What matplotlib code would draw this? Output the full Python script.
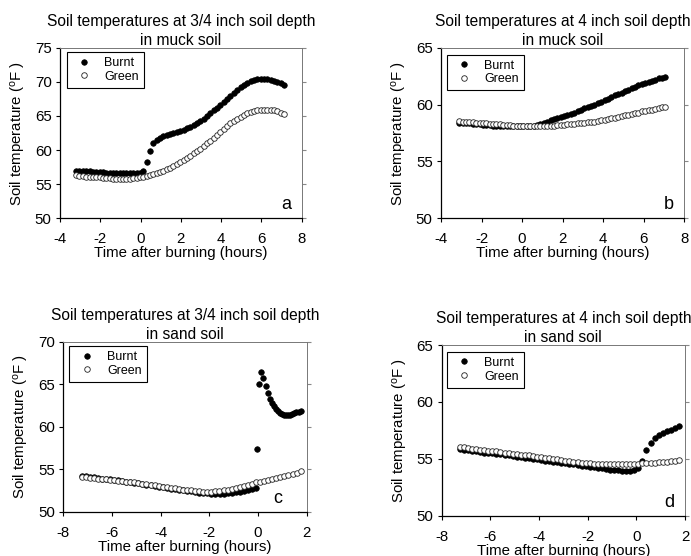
"""Soil temperature after burning: muck vs sand soil, 3/4 inch and 4 inch depth.

Four scatter panels (a-d), burnt plots as filled dots, green plots as open dots.
"""

import matplotlib
matplotlib.use("Agg")
import matplotlib.pyplot as plt
import numpy as np

plt.rcParams["font.family"] = ["Liberation Sans", "DejaVu Sans"]
plt.rcParams["mathtext.fontset"] = "custom"
plt.rcParams["mathtext.rm"] = "Liberation Sans"
plt.rcParams["mathtext.it"] = "Liberation Sans"
plt.rcParams["axes.unicode_minus"] = False

# ── readings (°F), 10-minute logger steps unless noted ───────────────────────
# a: 3/4 inch, muck soil, -3.2 h .. 7.13 h
a_burnt = [57.0, 57.0, 56.9, 56.9, 56.9, 56.8, 56.8, 56.8, 56.8, 56.7,
           56.7, 56.7, 56.7, 56.7, 56.6, 56.6, 56.6, 56.6, 56.6, 56.6,
           57.0, 58.2, 59.8, 61.0, 61.5, 61.8, 62.0, 62.2, 62.3, 62.5,
           62.6, 62.8, 63.0, 63.2, 63.4, 63.7, 64.0, 64.3, 64.6, 65.0,
           65.4, 65.8, 66.2, 66.6, 67.0, 67.5, 67.9, 68.3, 68.8, 69.2,
           69.5, 69.8, 70.1, 70.3, 70.4, 70.4, 70.4, 70.4, 70.3, 70.1,
           70.0, 69.8, 69.6]
a_green = [56.3, 56.2, 56.2, 56.1, 56.1, 56.0, 56.0, 56.0, 55.9, 55.9,
           55.9, 55.8, 55.8, 55.8, 55.8, 55.8, 55.8, 55.9, 55.9, 56.0,
           56.1, 56.2, 56.3, 56.5, 56.6, 56.8, 57.0, 57.2, 57.4, 57.6,
           57.9, 58.2, 58.5, 58.8, 59.1, 59.5, 59.8, 60.2, 60.6, 61.0,
           61.4, 61.8, 62.2, 62.7, 63.1, 63.5, 63.9, 64.3, 64.6, 64.9,
           65.2, 65.4, 65.6, 65.7, 65.8, 65.9, 65.9, 65.9, 65.9, 65.8,
           65.7, 65.5, 65.3]
a_time = (-3.2, 7.13)

# b: 4 inch, muck soil, -3.1 h .. 7.07 h
b_burnt = [58.4, 58.4, 58.4, 58.35, 58.3, 58.3, 58.25, 58.2, 58.2, 58.2,
           58.15, 58.15, 58.1, 58.1, 58.1, 58.1, 58.1, 58.1, 58.1, 58.1,
           58.1, 58.1, 58.15, 58.2, 58.3, 58.4, 58.5, 58.6, 58.7, 58.8,
           58.9, 59.0, 59.1, 59.2, 59.3, 59.4, 59.55, 59.7, 59.8, 59.9,
           60.0, 60.1, 60.25, 60.4, 60.5, 60.65, 60.8, 60.9, 61.05, 61.2,
           61.3, 61.45, 61.55, 61.7, 61.8, 61.9, 62.0, 62.1, 62.2, 62.3,
           62.35, 62.4]
b_green = [58.55, 58.5, 58.5, 58.45, 58.45, 58.4, 58.4, 58.35, 58.35, 58.3,
           58.3, 58.25, 58.25, 58.2, 58.2, 58.2, 58.15, 58.15, 58.1, 58.1,
           58.1, 58.1, 58.1, 58.1, 58.1, 58.1, 58.15, 58.15, 58.15, 58.2,
           58.2, 58.2, 58.25, 58.3, 58.3, 58.35, 58.4, 58.4, 58.45, 58.5,
           58.5, 58.55, 58.6, 58.65, 58.7, 58.8, 58.85, 58.9, 59.0, 59.05,
           59.1, 59.2, 59.25, 59.3, 59.4, 59.45, 59.5, 59.55, 59.6, 59.7,
           59.75, 59.8]
b_time = (-3.1, 7.07)

# c: 3/4 inch, sand soil; burnt before burning -7.25 .. -0.08 h,
#    burnt after burning 0 .. 1.75 h in 5-minute steps, green -7.25 .. 1.75 h
c_burnt_pre = [54.25, 54.2, 54.1, 54.05, 54.0, 53.9, 53.85, 53.8, 53.75, 53.7,
               53.6, 53.55, 53.5, 53.4, 53.35, 53.25, 53.2, 53.1, 53.0, 52.95,
               52.9, 52.8, 52.7, 52.65, 52.6, 52.5, 52.45, 52.4, 52.3, 52.25,
               52.2, 52.15, 52.1, 52.1, 52.1, 52.1, 52.15, 52.2, 52.3, 52.35,
               52.45, 52.55, 52.65, 52.75]
c_burnt_post = [57.4, 65.0, 66.4, 65.7, 64.8, 64.0, 63.3, 62.8, 62.4, 62.1,
                61.85, 61.65, 61.5, 61.4, 61.35, 61.35, 61.4, 61.5, 61.6, 61.7,
                61.75, 61.85]
c_green = [54.1, 54.05, 54.0, 53.95, 53.9, 53.85, 53.8, 53.75, 53.7, 53.65,
           53.6, 53.55, 53.5, 53.45, 53.4, 53.3, 53.25, 53.2, 53.1, 53.0,
           52.95, 52.9, 52.8, 52.75, 52.7, 52.6, 52.55, 52.5, 52.45, 52.4,
           52.35, 52.35, 52.35, 52.4, 52.45, 52.5, 52.6, 52.7, 52.8, 52.9,
           53.0, 53.15, 53.3, 53.45, 53.55, 53.65, 53.75, 53.85, 53.95, 54.05,
           54.2, 54.3, 54.45, 54.6, 54.8]
c_time_pre = (-7.25, -0.08)
c_time_post = (-0.03, 1.75)
c_time = (-7.25, 1.75)

# d: 4 inch, sand soil, -7.25 h .. 1.75 h
d_burnt = [55.85, 55.8, 55.75, 55.7, 55.65, 55.6, 55.55, 55.5, 55.5, 55.45,
           55.4, 55.35, 55.3, 55.25, 55.2, 55.15, 55.1, 55.05, 55.0, 54.95,
           54.9, 54.85, 54.8, 54.75, 54.7, 54.65, 54.6, 54.55, 54.5, 54.45,
           54.4, 54.35, 54.3, 54.25, 54.2, 54.15, 54.1, 54.05, 54.0, 54.0,
           53.95, 53.95, 53.95, 54.05, 54.2, 54.85, 55.8, 56.4, 56.8, 57.05,
           57.25, 57.4, 57.55, 57.7, 57.9]
d_green = [56.05, 56.0, 55.95, 55.9, 55.85, 55.8, 55.75, 55.7, 55.7, 55.65,
           55.6, 55.55, 55.5, 55.45, 55.4, 55.35, 55.3, 55.3, 55.25, 55.2,
           55.15, 55.1, 55.05, 55.0, 54.95, 54.9, 54.85, 54.8, 54.75, 54.7,
           54.65, 54.6, 54.6, 54.55, 54.55, 54.5, 54.5, 54.5, 54.5, 54.5,
           54.5, 54.5, 54.5, 54.55, 54.55, 54.6, 54.6, 54.65, 54.65, 54.7,
           54.75, 54.75, 54.8, 54.85, 54.9]
d_time = (-7.25, 1.75)

TITLES = [
    "Soil temperatures at 3/4 inch soil depth\nin muck soil",
    "Soil temperatures at 4 inch soil depth\nin muck soil",
    "Soil temperatures at 3/4 inch soil depth\nin sand soil",
    "Soil temperatures at 4 inch soil depth\nin sand soil",
]
LETTERS = ["a", "b", "c", "d"]
XLIMS = [(-4, 8), (-4, 8), (-8, 2), (-8, 2)]
YLIMS = [(50, 75), (50, 65), (50, 70), (50, 65)]

# axes rectangles in figure pixels: left, top, right, bottom
W, H = 691, 556
BOXES = [(60, 47.7, 301.7, 218.3),
         (441, 47.7, 684.3, 218.3),
         (63.3, 341.7, 306.7, 511.7),
         (441.7, 345, 685, 515.7)]
LETTER_X = [0.955, 0.955, 0.9, 0.955]
LEGEND_ANCHOR = [(0.028, 0.975), (0.023, 0.96), (0.025, 0.975), (0.02, 0.96)]


def times(span, values):
    return np.linspace(span[0], span[1], len(values))


def main() -> None:
    fig = plt.figure(figsize=(W / 100, H / 100), dpi=100)

    burnt_kw = dict(ls="none", marker="o", ms=4.0, mfc="black", mec="black",
                    mew=0.5, label="Burnt")
    green_kw = dict(ls="none", marker="o", ms=4.0, mfc="white", mec="#222222",
                    mew=0.6, label="Green")

    series = [
        [(times(a_time, a_burnt), a_burnt)],
        [(times(b_time, b_burnt), b_burnt)],
        [(times(c_time_pre, c_burnt_pre), c_burnt_pre),
         (times(c_time_post, c_burnt_post), c_burnt_post)],
        [(times(d_time, d_burnt), d_burnt)],
    ]
    greens = [(times(a_time, a_green), a_green),
              (times(b_time, b_green), b_green),
              (times(c_time, c_green), c_green),
              (times(d_time, d_green), d_green)]

    for i, (l, t, r, b) in enumerate(BOXES):
        ax = fig.add_axes([l / W, 1 - b / H, (r - l) / W, (b - t) / H])
        for j, (x, y) in enumerate(series[i]):
            kw = dict(burnt_kw)
            if j > 0:
                kw.pop("label")
            ax.plot(x, y, **kw)
        gx, gy = greens[i]
        ax.plot(gx, gy, **green_kw)

        ax.set_xlim(*XLIMS[i])
        ax.set_ylim(*YLIMS[i])
        ax.set_xticks(np.arange(XLIMS[i][0], XLIMS[i][1] + 1, 2))
        ax.set_yticks(np.arange(YLIMS[i][0], YLIMS[i][1] + 1, 5))

        ax.set_title(TITLES[i], fontsize=11.2, pad=2, linespacing=1.3)
        ax.set_xlabel("Time after burning (hours)", fontsize=10.8, labelpad=0)
        ax.set_ylabel(r"Soil temperature ($^{\rm o}$F )", fontsize=10.8,
                      labelpad=5)

        ax.tick_params(axis="x", direction="out", length=3, width=0.8,
                       pad=7, labelsize=10.8)
        ax.tick_params(axis="y", direction="out", length=3, width=0.8,
                       pad=3, labelsize=10.8, right=True)
        for tick in ax.yaxis.get_major_ticks():
            tick.tick2line.set_markeredgecolor("#888888")
        for side in ("top", "right"):
            ax.spines[side].set_color("#777777")
            ax.spines[side].set_linewidth(0.7)
        for side in ("left", "bottom"):
            ax.spines[side].set_linewidth(0.9)

        ax.text(LETTER_X[i], 0.03, LETTERS[i], transform=ax.transAxes,
                fontsize=13, ha="right", va="bottom")

        leg = ax.legend(loc="upper left", bbox_to_anchor=LEGEND_ANCHOR[i],
                        borderaxespad=0, fontsize=9, frameon=True,
                        fancybox=False, edgecolor="black", framealpha=1,
                        handlelength=2.0, handletextpad=0.6, borderpad=0.4,
                        labelspacing=0.15, numpoints=1)
        leg.get_frame().set_linewidth(0.8)

    fig.savefig("out.png", dpi=100)


if __name__ == "__main__":
    main()
